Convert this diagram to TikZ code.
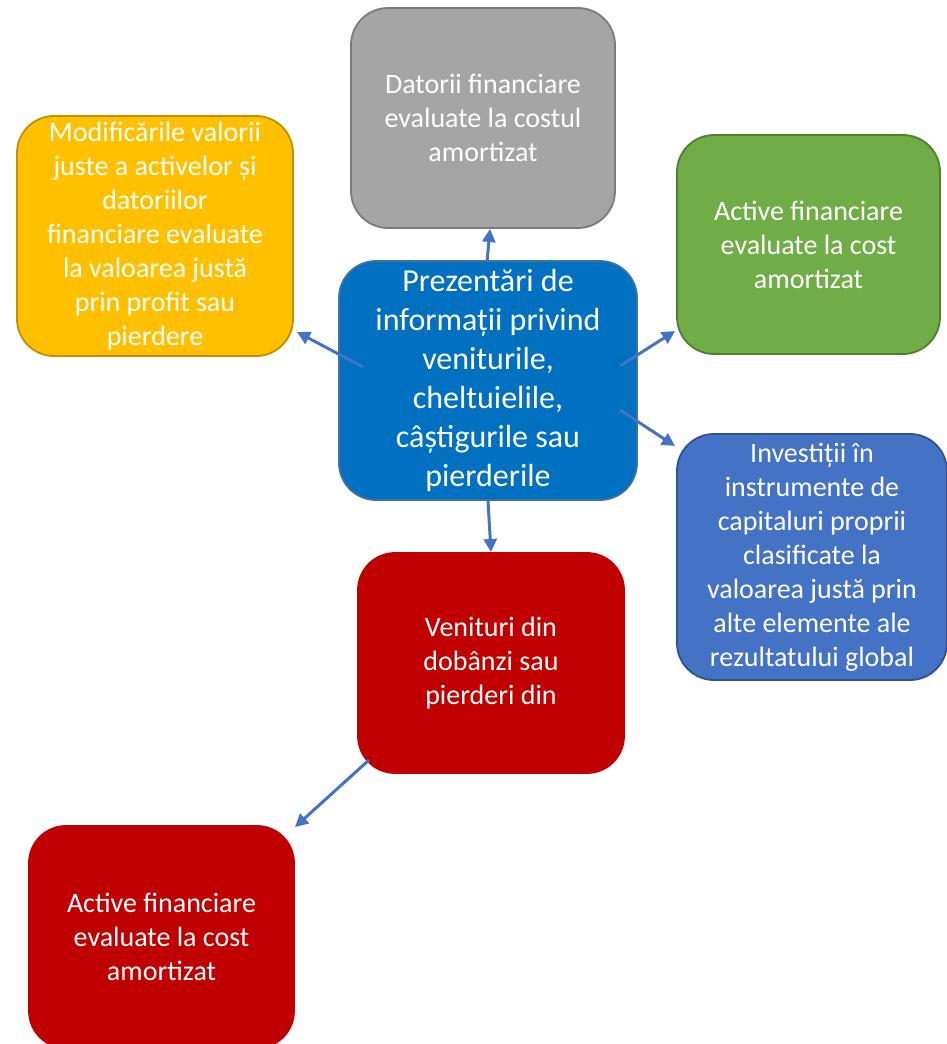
\documentclass[tikz,border=0pt]{standalone}
\usepackage{fontspec}
\setmainfont{Carlito}
\usetikzlibrary{arrows.meta}
\definecolor{grayfill}{HTML}{A5A5A5}
\definecolor{grayline}{HTML}{7B7B7B}
\definecolor{yelfill}{HTML}{FFC000}
\definecolor{yelline}{HTML}{BF9000}
\definecolor{grnfill}{HTML}{70AD47}
\definecolor{grnline}{HTML}{507E32}
\definecolor{ctrfill}{HTML}{0070C0}
\definecolor{ctrline}{HTML}{41719C}
\definecolor{bluefill}{HTML}{4472C4}
\definecolor{blueline}{HTML}{2F528F}
\definecolor{redfill}{HTML}{C00000}
\definecolor{arrowcol}{HTML}{4472C4}
\tikzset{
  box/.style={rounded corners=37pt, line width=1.8pt, text=white, align=center,
    inner sep=0pt, font=\fontsize{28}{34}\selectfont},
  bigbox/.style={box, font=\fontsize{32}{39}\selectfont},
  arr/.style={draw=arrowcol, line width=3pt, -{Triangle[length=13pt,width=13pt]}}
}
\begin{document}
\begin{tikzpicture}[x=1pt,y=-1pt]
\useasboundingbox (0,0) rectangle (947,1044);
\clip (0,0) rectangle (947,1044);
\node[box, fill=grayfill, draw=grayline, minimum width=264pt, minimum height=220pt] (gray) at (483,118)
  {Datorii financiare\\evaluate la costul\\amortizat};
\node[box, fill=yelfill, draw=yelline, minimum width=276pt, minimum height=240pt] (yel) at (155,236)
  {Modificările valorii\\juste a activelor și\\datoriilor\\financiare evaluate\\la valoarea justă\\prin profit sau\\pierdere};
\node[box, fill=grnfill, draw=grnline, minimum width=263pt, minimum height=219pt] (grn) at (808.5,244.5)
  {Active financiare\\evaluate la cost\\amortizat};
\node[bigbox, fill=ctrfill, draw=ctrline, minimum width=298pt, minimum height=239pt] (ctr) at (488,380.5)
  {Prezentări de\\informații privind\\veniturile,\\cheltuielile,\\câștigurile sau\\pierderile};
\node[box, fill=bluefill, draw=blueline, minimum width=270pt, minimum height=246pt] (inv) at (812,557)
  {Investiții în\\instrumente de\\capitaluri proprii\\clasificate la\\valoarea justă prin\\alte elemente ale\\rezultatului global};
\node[box, fill=redfill, draw=redfill, minimum width=266pt, minimum height=220pt] (red1) at (491,663)
  {Venituri din\\dobânzi sau\\pierderi din};
\node[box, fill=redfill, draw=redfill, minimum width=265pt, minimum height=222pt] (red2) at (161.5,937)
  {Active financiare\\evaluate la cost\\amortizat};
% connector end points
\coordinate (sUp) at (487,262);   \coordinate (tUp) at (490,229);
\coordinate (sL) at (363,367);    \coordinate (tL) at (297,332);
\coordinate (sRU) at (620,366);   \coordinate (tRU) at (675,331);
\coordinate (sRD) at (620,410);   \coordinate (tRD) at (675,446);
\coordinate (sDn) at (488,501);   \coordinate (tDn) at (491,552);
\coordinate (sRR) at (369,760);   \coordinate (tRR) at (295,827);
\draw[arr] (sUp) -- (tUp);
\draw[arr] (sL) -- (tL);
\draw[arr] (sRU) -- (tRU);
\draw[arr] (sRD) -- (tRD);
\draw[arr] (sDn) -- (tDn);
\draw[arr] (sRR) -- (tRR);
\end{tikzpicture}
\end{document}
